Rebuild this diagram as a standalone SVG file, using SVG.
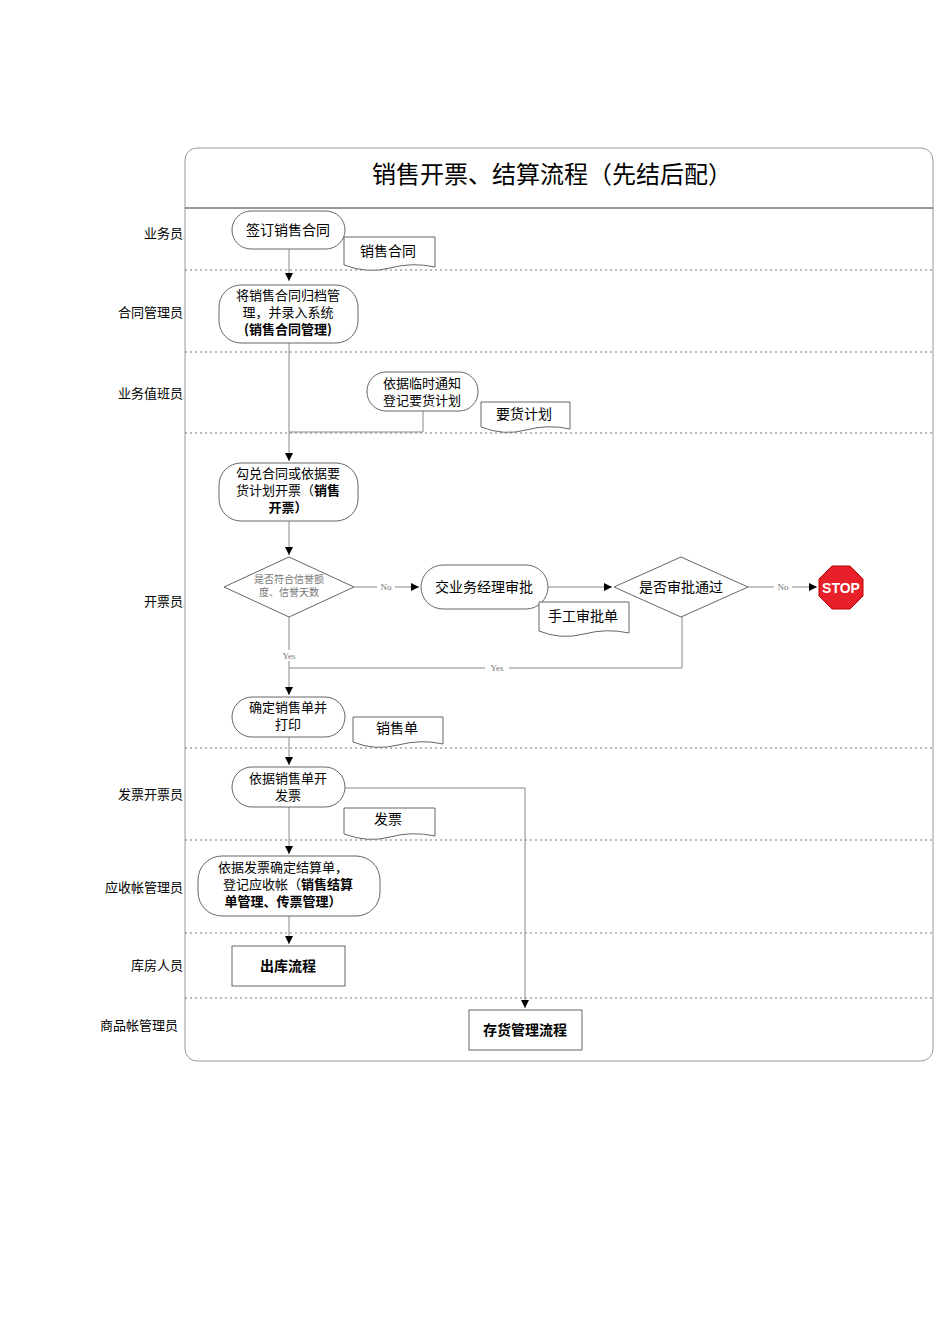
<svg xmlns="http://www.w3.org/2000/svg" width="950" height="1344" viewBox="0 0 950 1344">
<style>
text{font-family:"Noto Sans CJK SC","Liberation Sans",sans-serif;fill:#000}
.lane{font-size:13px;text-anchor:end}
.n{fill:#fff;stroke:#666;stroke-width:1}
.t{font-size:14px;text-anchor:middle}
.m{font-size:13px;text-anchor:middle}
.b{font-weight:bold}
.sep{stroke:#777;stroke-dasharray:2,3;stroke-width:1}
.c{fill:none;stroke:#888;stroke-width:1}
.lb{font-size:9px;fill:#777;text-anchor:middle;font-family:"Liberation Serif",serif}
</style>
<defs><marker id="a" viewBox="0 0 10 10" refX="10" refY="5" markerWidth="8" markerHeight="8" orient="auto"><path d="M0,0L10,5L0,10z" fill="#000"/></marker></defs>
<rect width="950" height="1344" fill="#fff"/>
<rect x="185" y="148" width="748" height="913" rx="12" fill="none" stroke="#999"/>
<line x1="185" y1="208" x2="933" y2="208" stroke="#333"/>
<text x="552" y="183" style="font-size:24px" text-anchor="middle">销售开票、结算流程（先结后配）</text>
<g id="lanes">
<line class="sep" x1="185" y1="270" x2="933" y2="270"/><line class="sep" x1="185" y1="352" x2="933" y2="352"/>
<line class="sep" x1="185" y1="433" x2="933" y2="433"/><line class="sep" x1="185" y1="748" x2="933" y2="748"/>
<line class="sep" x1="185" y1="840" x2="933" y2="840"/><line class="sep" x1="185" y1="933" x2="933" y2="933"/>
<line class="sep" x1="185" y1="998" x2="933" y2="998"/>
<text class="lane" x="183" y="238">业务员</text><text class="lane" x="183" y="317">合同管理员</text>
<text class="lane" x="183" y="398">业务值班员</text><text class="lane" x="183" y="606">开票员</text>
<text class="lane" x="183" y="799">发票开票员</text><text class="lane" x="183" y="892">应收帐管理员</text>
<text class="lane" x="183" y="970">库房人员</text><text class="lane" x="178" y="1030">商品帐管理员</text>
</g>
<g id="connectors">
<path class="c" d="M289,249V281" marker-end="url(#a)"/>
<path class="c" d="M289,343V461" marker-end="url(#a)"/>
<path class="c" d="M423,411V432H289"/>
<path class="c" d="M289,521V555" marker-end="url(#a)"/>
<path class="c" d="M354,587H419" marker-end="url(#a)"/>
<path class="c" d="M548,587H612" marker-end="url(#a)"/>
<path class="c" d="M748,587H817" marker-end="url(#a)"/>
<path class="c" d="M289,617V695" marker-end="url(#a)"/>
<path class="c" d="M682,617V668H289"/>
<path class="c" d="M289,737V765" marker-end="url(#a)"/>
<path class="c" d="M289,807V854" marker-end="url(#a)"/>
<path class="c" d="M289,916V944" marker-end="url(#a)"/>
<path class="c" d="M345,788H525V1008" marker-end="url(#a)"/>
<rect x="377" y="581" width="18" height="11" fill="#fff"/><text class="lb" x="386" y="590">No</text>
<rect x="774" y="581" width="18" height="11" fill="#fff"/><text class="lb" x="783" y="590">No</text>
<rect x="277" y="650" width="24" height="11" fill="#fff"/><text class="lb" x="289" y="659">Yes</text>
<rect x="485" y="662" width="24" height="11" fill="#fff"/><text class="lb" x="497" y="671">Yes</text>
</g>
<g id="n1"><rect class="n" x="232" y="211" width="113" height="38" rx="19"/><text class="t" x="288" y="235">签订销售合同</text></g>
<g id="d1"><path class="n" d="M344,237H435V267Q412,262 390,268T344,265Z"/><text class="t" x="388" y="256">销售合同</text></g>
<g id="n2"><rect class="n" x="219" y="285" width="139" height="58" rx="22"/><text class="m" x="288" y="300">将销售合同归档管</text><text class="m" x="288" y="317">理，并录入系统</text><text class="m b" x="288" y="334">(销售合同管理)</text></g>
<g id="n3"><rect class="n" x="367" y="372" width="111" height="39" rx="19"/><text class="m" x="422" y="388">依据临时通知</text><text class="m" x="422" y="405">登记要货计划</text></g>
<g id="d2"><path class="n" d="M481,402H570V429Q548,424 526,430T481,427Z"/><text class="t" x="524" y="419">要货计划</text></g>
<g id="n4"><rect class="n" x="219" y="463" width="139" height="58" rx="22"/><text class="m" x="288" y="478">勾兑合同或依据要</text><text class="m" x="288" y="495">货计划开票（<tspan class="b">销售</tspan></text><text class="m b" x="288" y="512">开票）</text></g>
<g id="q1"><path class="n" d="M289,557L354,587L289,617L224,587Z"/><text x="289" y="583" text-anchor="middle" style="font-size:10px;fill:#777">是否符合信誉额</text><text x="289" y="596" text-anchor="middle" style="font-size:10px;fill:#777">度、信誉天数</text></g>
<g id="n5"><rect class="n" x="421" y="565" width="127" height="44" rx="22"/><text class="t" x="484" y="592">交业务经理审批</text></g>
<g id="d3"><path class="n" d="M539,602H629V633Q607,628 584,634T539,631Z"/><text class="t" x="583" y="621">手工审批单</text></g>
<g id="q2"><path class="n" d="M681,557L748,587L681,617L614,587Z"/><text class="t" x="681" y="592">是否审批通过</text></g>
<g id="stop"><path d="M832,566H850L863,579V596L850,609H832L819,596V579Z" fill="#e8202a" stroke="#b00"/><text x="841" y="593" text-anchor="middle" style="font-size:14px;font-weight:bold;fill:#fff;font-family:'Liberation Sans',sans-serif">STOP</text></g>
<g id="n6"><rect class="n" x="232" y="697" width="113" height="40" rx="20"/><text class="m" x="288" y="712">确定销售单并</text><text class="m" x="288" y="729">打印</text></g>
<g id="d4"><path class="n" d="M353,717H443V744Q421,739 398,745T353,742Z"/><text class="t" x="397" y="733">销售单</text></g>
<g id="n7"><rect class="n" x="232" y="767" width="113" height="40" rx="20"/><text class="m" x="288" y="783">依据销售单开</text><text class="m" x="288" y="800">发票</text></g>
<g id="d5"><path class="n" d="M344,808H435V836Q412,831 390,837T344,834Z"/><text class="t" x="388" y="824">发票</text></g>
<g id="n8"><rect class="n" x="198" y="856" width="182" height="60" rx="24"/><text class="m" x="283" y="872">依据发票确定结算单，</text><text class="m" x="288" y="889">登记应收帐（<tspan class="b">销售结算</tspan></text><text class="m b" x="283" y="906">单管理、传票管理）</text></g>
<g id="n9"><rect class="n" x="232" y="946" width="113" height="40"/><text class="t b" x="288" y="971">出库流程</text></g>
<g id="n10"><rect class="n" x="469" y="1010" width="113" height="40"/><text class="t b" x="525" y="1035">存货管理流程</text></g>
</svg>
